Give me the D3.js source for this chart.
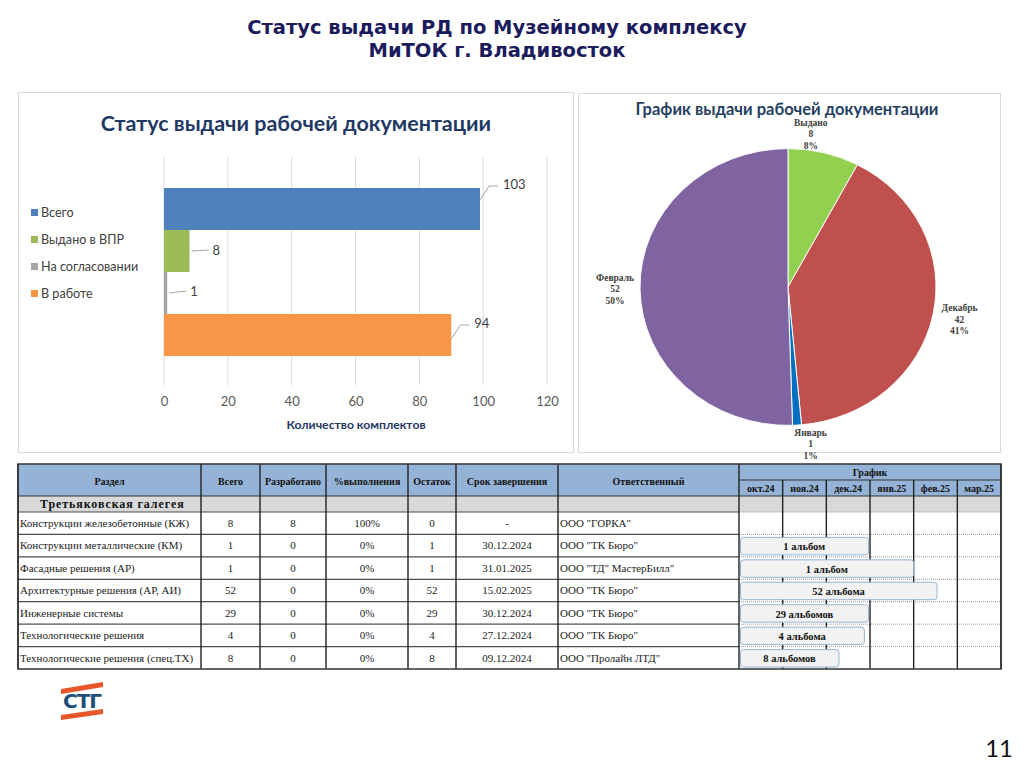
<!DOCTYPE html>
<html>
<head>
<meta charset="utf-8">
<script src="https://cdn.jsdelivr.net/npm/d3@7"></script>
<style>
  body { margin: 0; background: #fff; }
  svg { display: block; }
</style>
</head>
<body>
<script>
// Слайд: статус выдачи РД, МиТОК г. Владивосток

// --- данные: столбчатая диаграмма ---
const barSeries = ['Всего', 'Выдано в ВПР', 'На согласовании', 'В работе'];
const barValues = [99, 8, 1, 90];          // длина полос как на картинке
const barLabels = ['103', '8', '1', '94']; // подписи данных
const xTicks = [0, 20, 40, 60, 80, 100, 120];

// --- данные: круговая диаграмма ---
const pieNames = ['Выдано', 'Декабрь', 'Январь', 'Февраль'];
const pieValues = [8, 42, 1, 52];

// --- данные: таблица ---
const sections = [
    'Конструкции железобетонные (КЖ)',
    'Конструкции металлические (КМ)',
    'Фасадные решения (АР)',
    'Архитектурные решения (АР, АИ)',
    'Инженерные системы',
    'Технологические решения',
    'Технологические решения (спец.ТХ)'
];
const totals = [8, 1, 1, 52, 29, 4, 8];
const developed = [8, 0, 0, 0, 0, 0, 0];
const deadlines = ['-', '30.12.2024', '31.01.2025', '15.02.2025', '30.12.2024', '27.12.2024', '09.12.2024'];
const responsible = ['ООО "ГОРКА"', 'ООО "ТК Бюро"', 'ООО "ТД" МастерБилл"', 'ООО "ТК Бюро"', 'ООО "ТК Бюро"', 'ООО "ТК Бюро"', 'ООО "Пролайн ЛТД"'];
const albums = ['', '1 альбом', '1 альбом', '52 альбома', '29 альбомов', '4 альбома', '8 альбомов'];
const months = ['окт.24', 'ноя.24', 'дек.24', 'янв.25', 'фев.25', 'мар.25'];
const headers = ['Раздел', 'Всего', 'Разработано', '%выполнения', 'Остаток', 'Срок завершения', 'Ответственный'];
const groupName = 'Третьяковская галегея';

// --- стили ---
const barColor = d3.scaleOrdinal().domain(barSeries).range(['#4F81BD', '#9BBB59', '#A5A5A5', '#F79646']);
const pieColor = d3.scaleOrdinal().domain(pieNames).range(['#92D050', '#C0504D', '#0070C0', '#8064A2']);
const sans = 'Lato, "Open Sans", sans-serif';
const serif = '"Liberation Serif", "DejaVu Serif", serif';

const svg = d3.select('body').append('svg')
    .attr('width', 1024)
    .attr('height', 767);

svg.append('rect').attr('width', 1024).attr('height', 767).attr('fill', '#fff');

// Заголовок слайда
const title = svg.append('text')
    .attr('x', 497)
    .attr('text-anchor', 'middle')
    .attr('font-family', '"DejaVu Sans", Verdana, sans-serif')
    .attr('font-weight', 'bold')
    .attr('font-size', '19.5px')
    .attr('fill', '#1B1B5E');
title.append('tspan').attr('x', 497).attr('y', 34).text('Статус выдачи РД по Музейному комплексу');
title.append('tspan').attr('x', 497).attr('y', 57).text('МиТОК г. Владивосток');

// ================= Столбчатая диаграмма =================
const bar = svg.append('g');
bar.append('rect')
    .attr('x', 18.5).attr('y', 92.5).attr('width', 555).attr('height', 360)
    .attr('fill', '#fff').attr('stroke', '#D9D9D9');

bar.append('text')
    .attr('x', 296).attr('y', 131)
    .attr('text-anchor', 'middle')
    .attr('font-family', sans).attr('font-weight', 'bold').attr('font-size', '21.5px')
    .attr('fill', '#1F3864')
    .text('Статус выдачи рабочей документации');

const x = d3.scaleLinear().domain([0, 120]).range([164, 547]);
const yb = d3.scaleBand().domain(barSeries).range([188, 356]);

// сетка
bar.append('g')
    .selectAll('line')
    .data(xTicks)
    .enter()
    .append('line')
    .attr('x1', d => x(d)).attr('x2', d => x(d))
    .attr('y1', 157).attr('y2', 385)
    .attr('stroke', '#D9D9D9');

// ось X
const xAxis = bar.append('g')
    .attr('transform', 'translate(0,397)')
    .call(d3.axisBottom(x).tickValues(xTicks).tickSize(0).tickPadding(0));
xAxis.select('.domain').remove();
xAxis.selectAll('text')
    .attr('font-family', sans).attr('font-size', '13px').attr('fill', '#595959');

bar.append('text')
    .attr('x', 356).attr('y', 429)
    .attr('text-anchor', 'middle')
    .attr('font-family', sans).attr('font-weight', 'bold').attr('font-size', '12.2px')
    .attr('fill', '#1F3864')
    .text('Количество комплектов');

// полосы
bar.append('g')
    .selectAll('rect')
    .data(barSeries)
    .enter()
    .append('rect')
    .attr('x', x(0))
    .attr('y', d => yb(d))
    .attr('width', (d, i) => x(barValues[i]) - x(0))
    .attr('height', yb.bandwidth())
    .attr('fill', d => barColor(d));

// подписи данных с выносками
const labelDy = [-25, -1, -2, -12];
barSeries.forEach((s, i) => {
    const xe = x(barValues[i]);
    const mid = yb(s) + yb.bandwidth() / 2;
    const ly = mid + labelDy[i];
    const lead = Math.abs(labelDy[i]) > 5
        ? `M${xe},${ly + 16}L${xe + 9},${ly + 2}L${xe + 18},${ly + 2}`
        : `M${xe + 2},${mid}L${xe + 19},${ly}`;
    bar.append('path')
        .attr('d', lead)
        .attr('fill', 'none')
        .attr('stroke', '#A6A6A6');
    bar.append('text')
        .attr('x', xe + 23).attr('y', ly)
        .attr('dy', '0.35em')
        .attr('font-family', sans).attr('font-size', '13px').attr('fill', '#404040')
        .text(barLabels[i]);
});

// легенда
const legend = bar.append('g')
    .selectAll('g')
    .data(barSeries)
    .enter()
    .append('g')
    .attr('transform', (d, i) => `translate(31,${213 + i * 27})`);
legend.append('rect')
    .attr('x', 0).attr('y', -4).attr('width', 7).attr('height', 7)
    .attr('fill', d => barColor(d));
legend.append('text')
    .attr('x', 10).attr('y', 0).attr('dy', '0.35em')
    .attr('font-family', sans).attr('font-size', '12.6px').attr('fill', '#404040')
    .text(d => d);

// ================= Круговая диаграмма =================
const pieG = svg.append('g');
pieG.append('rect')
    .attr('x', 578.5).attr('y', 93.5).attr('width', 422).attr('height', 359)
    .attr('fill', '#fff').attr('stroke', '#D9D9D9');

pieG.append('text')
    .attr('x', 787).attr('y', 115)
    .attr('text-anchor', 'middle')
    .attr('font-family', sans).attr('font-weight', 'bold').attr('font-size', '16.5px')
    .attr('fill', '#254061')
    .text('График выдачи рабочей документации');

const R = 148;
const cx = 788, cy = 287, squash = 0.935;
const pieData = d3.pie().sort(null).value(d => d)(pieValues);
const arc = d3.arc().innerRadius(0).outerRadius(R);
const total = d3.sum(pieValues);

pieG.append('g')
    .attr('transform', `translate(${cx},${cy}) scale(1,${squash})`)
    .selectAll('path')
    .data(pieData)
    .enter()
    .append('path')
    .attr('d', arc)
    .attr('fill', (d, i) => pieColor(pieNames[i]))
    .attr('stroke', '#fff')
    .attr('stroke-width', 1);

const labelArc = d3.arc().innerRadius(R + 25).outerRadius(R + 25);
const labelShift = [[-19, 4], [2, 1], [12, -4], [0, 0]];
pieData.forEach((d, i) => {
    const [px, py] = labelArc.centroid(d);
    const lx = cx + px + labelShift[i][0];
    const ly = cy + py * squash + labelShift[i][1];
    const t = pieG.append('text')
        .attr('text-anchor', 'middle')
        .attr('font-family', serif).attr('font-weight', 'bold').attr('font-size', '9.5px')
        .attr('fill', '#404040');
    const lines = [pieNames[i], pieValues[i], Math.round(pieValues[i] / total * 100) + '%'];
    lines.forEach((s, k) => {
        t.append('tspan')
            .attr('x', lx)
            .attr('y', ly + (k - 1) * 11.5 + 3)
            .text(s);
    });
});

// ================= Таблица =================
const tbl = svg.append('g');
const colX = [18, 201, 260, 326, 408, 456, 558, 739, 1001];
const headTop = 464, headMid = 480, headBot = 496, groupBot = 512, tableBot = 669;
const mx = d3.scaleBand().domain(months).range([739, 1001]);
const ry = d3.scaleBand().domain(d3.range(sections.length)).range([groupBot, tableBot]);

tbl.append('rect')
    .attr('x', 18).attr('y', headTop).attr('width', 983).attr('height', headBot - headTop)
    .attr('fill', '#95B3D7');
tbl.append('rect')
    .attr('x', 18).attr('y', headBot).attr('width', 983).attr('height', groupBot - headBot)
    .attr('fill', '#D9D9D9');

// горизонтальные линии строк
const rowLines = [groupBot].concat(d3.range(1, sections.length).map(i => ry(i)));
tbl.append('g')
    .selectAll('line')
    .data(rowLines)
    .enter()
    .append('line')
    .attr('x1', 18).attr('x2', 739)
    .attr('y1', d => d).attr('y2', d => d)
    .attr('stroke', '#4D4D4D').attr('stroke-width', 1.2);
tbl.append('g')
    .selectAll('line')
    .data(rowLines)
    .enter()
    .append('line')
    .attr('x1', 739).attr('x2', 1001)
    .attr('y1', d => d).attr('y2', d => d)
    .attr('stroke', '#9A9A9A').attr('stroke-dasharray', '1,1');

tbl.append('line')
    .attr('x1', 18).attr('x2', 1001).attr('y1', headBot).attr('y2', headBot)
    .attr('stroke', '#333').attr('stroke-width', 1.2);
tbl.append('line')
    .attr('x1', 739).attr('x2', 1001).attr('y1', headMid).attr('y2', headMid)
    .attr('stroke', '#333').attr('stroke-width', 1.2);

// вертикальные линии
tbl.append('g')
    .selectAll('line')
    .data(colX)
    .enter()
    .append('line')
    .attr('x1', d => d).attr('x2', d => d)
    .attr('y1', headTop).attr('y2', tableBot)
    .attr('stroke', '#222').attr('stroke-width', 1.4);
tbl.append('g')
    .selectAll('line')
    .data(months.slice(1))
    .enter()
    .append('line')
    .attr('x1', d => mx(d)).attr('x2', d => mx(d))
    .attr('y1', headMid).attr('y2', tableBot)
    .attr('stroke', '#222').attr('stroke-width', 1.4);

tbl.append('rect')
    .attr('x', 18).attr('y', headTop).attr('width', 983).attr('height', tableBot - headTop)
    .attr('fill', 'none').attr('stroke', '#333').attr('stroke-width', 1.5);

// шапка
headers.forEach((h, i) => {
    tbl.append('text')
        .attr('x', (colX[i] + colX[i + 1]) / 2).attr('y', 481)
        .attr('dy', '0.35em')
        .attr('text-anchor', 'middle')
        .attr('font-family', serif).attr('font-weight', 'bold').attr('font-size', '10px')
        .attr('fill', '#111')
        .text(h);
});
tbl.append('text')
    .attr('x', 870).attr('y', 472).attr('dy', '0.35em')
    .attr('text-anchor', 'middle')
    .attr('font-family', serif).attr('font-weight', 'bold').attr('font-size', '10px')
    .attr('fill', '#111')
    .text('График');
tbl.append('g')
    .selectAll('text')
    .data(months)
    .enter()
    .append('text')
    .attr('x', d => mx(d) + mx.bandwidth() / 2).attr('y', 488.5).attr('dy', '0.35em')
    .attr('text-anchor', 'middle')
    .attr('font-family', serif).attr('font-weight', 'bold').attr('font-size', '10px')
    .attr('fill', '#111')
    .text(d => d);

tbl.append('text')
    .attr('x', 40).attr('y', 504).attr('dy', '0.35em')
    .attr('font-family', serif).attr('font-weight', 'bold').attr('font-size', '12px')
    .attr('letter-spacing', '0.9px')
    .attr('fill', '#111')
    .text(groupName);

// строки
const cellStyle = sel => sel
    .attr('font-family', serif).attr('font-size', '11px').attr('fill', '#222');
sections.forEach((s, i) => {
    const yc = ry(i) + ry.bandwidth() / 2;
    const pct = Math.round(developed[i] / totals[i] * 100) + '%';
    const cells = [totals[i], developed[i], pct, totals[i] - developed[i], deadlines[i]];
    tbl.append('text').call(cellStyle)
        .attr('x', 20).attr('y', yc).attr('dy', '0.35em')
        .text(s);
    cells.forEach((c, k) => {
        tbl.append('text').call(cellStyle)
            .attr('x', (colX[k + 1] + colX[k + 2]) / 2).attr('y', yc).attr('dy', '0.35em')
            .attr('text-anchor', 'middle')
            .text(c);
    });
    tbl.append('text').call(cellStyle)
        .attr('x', 560).attr('y', yc).attr('dy', '0.35em')
        .text(responsible[i]);
});

// диаграмма Ганта: конец полосы по сроку завершения
function deadlineX(str) {
    const [dd, mm, yy] = str.split('.').map(Number);
    const idx = (yy - 2024) * 12 + (mm - 1) - 9; // окт.24 = 0
    const days = new Date(yy, mm, 0).getDate();
    return mx.range()[0] + (idx + dd / days) * mx.step();
}
const gantt = sections.map((s, i) => ({ i, label: albums[i], end: deadlines[i] }))
    .filter(d => d.end !== '-');
const gb = tbl.append('g')
    .selectAll('g')
    .data(gantt)
    .enter()
    .append('g');
gb.append('rect')
    .attr('x', 740.5)
    .attr('y', d => ry(d.i) + 3)
    .attr('width', d => deadlineX(d.end) - 740.5)
    .attr('height', ry.bandwidth() - 5)
    .attr('rx', 3)
    .attr('fill', '#F2F2F2')
    .attr('stroke', '#95B3D7');
gb.append('text')
    .attr('x', d => (740 + deadlineX(d.end)) / 2)
    .attr('y', d => ry(d.i) + ry.bandwidth() / 2 + 1)
    .attr('dy', '0.35em')
    .attr('text-anchor', 'middle')
    .attr('font-family', serif).attr('font-weight', 'bold').attr('font-size', '10.5px')
    .attr('fill', '#111')
    .text(d => d.label);

// ================= Логотип и номер слайда =================
const logo = svg.append('g');
logo.append('path')
    .attr('d', 'M61,689 L103,682 L103,687 L61,694 Z')
    .attr('fill', '#E8562A');
logo.append('text')
    .attr('x', 82).attr('y', 708)
    .attr('text-anchor', 'middle')
    .attr('font-family', '"DejaVu Sans", sans-serif').attr('font-weight', 'bold').attr('font-size', '20px')
    .attr('letter-spacing', '-1px')
    .attr('fill', '#1F4E79')
    .text('СТГ');
logo.append('path')
    .attr('d', 'M61,715 L103,709 L103,714 L61,720 Z')
    .attr('fill', '#E8562A');

svg.append('text')
    .attr('x', 1013).attr('y', 757)
    .attr('text-anchor', 'end')
    .attr('font-family', sans).attr('font-size', '24px')
    .attr('fill', '#111')
    .text('11');
</script>
</body>
</html>
